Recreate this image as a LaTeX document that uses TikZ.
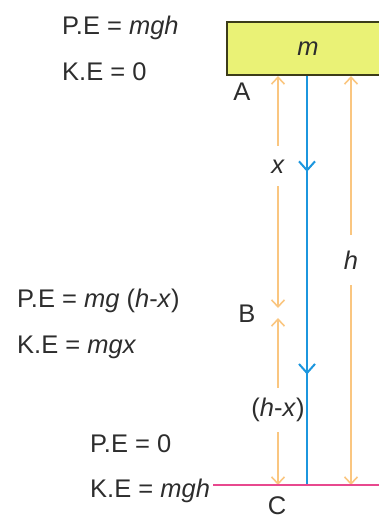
\documentclass[tikz,border=0pt]{standalone}
\usepackage{fontspec}
\setmainfont{Liberation Sans}
\usetikzlibrary{arrows.meta,decorations.markings}
\definecolor{MassYellow}{RGB}{234,242,118}
\definecolor{MassEdge}{RGB}{60,60,25}
\definecolor{PathOrange}{RGB}{250,198,128}
\definecolor{FallBlue}{RGB}{28,150,222}
\definecolor{GroundPink}{RGB}{232,72,142}
\definecolor{TextGrey}{RGB}{45,45,45}

\begin{document}
\begin{tikzpicture}[
    x=1pt, y=-1pt, font=\fontsize{25.5}{30}\selectfont, text=TextGrey,
    mass/.style={draw=MassEdge, line width=1.3pt, fill=MassYellow, minimum width=162pt, minimum height=53pt, inner sep=0pt},
    eq/.style={anchor=base west, inner sep=0pt},
    pt/.style={anchor=base, inner sep=0pt},
    barb/.tip={Straight Barb[length=7pt, width=13pt, line width=1.6pt]},
    bigbarb/.tip={Straight Barb[length=9pt, width=16pt, line width=2pt]},
    dist/.style={barb-barb, line width=2.2pt, PathOrange},
    gap/.style={fill=white, text=TextGrey, inner sep=0pt, minimum height=40pt},
    fall/.style={line width=2.6pt, FallBlue, postaction={decorate},
      decoration={markings,
        mark=at position 0.235 with {\arrow{bigbarb}},
        mark=at position 0.73 with {\arrow{bigbarb}}}},
    gnd/.style={line width=2pt, GroundPink}
  ]
    \useasboundingbox (0,0) rectangle (379,519);
    % the body at height h
    \node[mass] (mass) at (308,48.5) {\textit{m}};
    \coordinate (topx) at (278,76);
    \coordinate (botx) at (278,308);
    \coordinate (topr) at (278,318);
    \coordinate (botr) at (278,485);
    \coordinate (toph) at (351,76);
    \coordinate (both) at (351,485);
    \coordinate (fallC) at (307,485);
    \coordinate (gndR) at (390,485);
    % energies
    \node[eq] (peA) at (62,35) {P.E = \textit{mgh}};
    \node[eq] (keA) at (62,80) {K.E = 0};
    \node[eq] (peB) at (17,307) {P.E = \textit{mg} (\textit{h}-\textit{x})};
    \node[eq] (keB) at (17,353) {K.E = \textit{mgx}};
    \node[eq] (peC) at (90,452) {P.E = 0};
    \node[eq] (keC) at (90,497) {K.E = \textit{mgh}};
    % points
    \node[pt] (ptA) at (242,100) {A};
    \node[pt] (ptB) at (247,322) {B};
    \node[pt] (ptC) at (277,514) {C};
    % distances
    \draw[dist] (topx) -- node[gap, pos=.39]{\textit{x}} (botx);
    \draw[dist] (topr) -- node[gap, pos=.55, minimum height=44pt]{(\textit{h}-\textit{x})} (botr);
    \draw[dist] (toph) -- node[gap, pos=.45, minimum height=50pt]{\textit{h}} (both);
    % fall and ground
    \draw[fall] (mass.south -| fallC) -- (fallC);
    \draw[gnd] (keC.east |- botr) ++(3,0) -- (gndR);
  \end{tikzpicture}
\end{document}
